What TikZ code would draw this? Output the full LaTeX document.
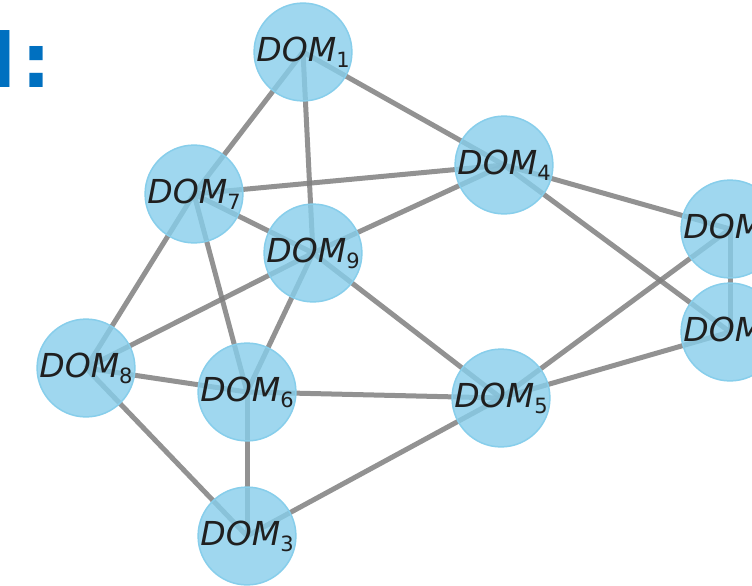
\documentclass[tikz,border=0pt]{standalone}
\usepackage{fontspec}
\setmainfont{DejaVu Sans}
\definecolor{nodefill}{RGB}{135,206,235}
\definecolor{edgegray}{RGB}{128,128,128}
\definecolor{titleblue}{RGB}{0,112,192}
\newcommand\domlabel[1]{\fontsize{33}{33}\selectfont\itshape DOM\raisebox{-6pt}{\upshape\fontsize{21}{21}\selectfont #1}}
\tikzset{
  link/.style={draw=edgegray, draw opacity=0.85, line width=5pt},
  dom/.style={circle, minimum size=95pt, inner sep=0pt, fill=nodefill, fill opacity=0.8,
              draw=nodefill, line width=1.5pt, text opacity=1, text=black!88},
}
\begin{document}
\begin{tikzpicture}[x=1pt,y=-1pt]
  \useasboundingbox (0,0) rectangle (752,586);
  \clip (0,0) rectangle (752,586);
  \fill[white] (0,0) rectangle (752,586);

  % node positions
  \coordinate (p1) at (303,52);
  \coordinate (p7) at (194,194);
  \coordinate (p4) at (504,165);
  \coordinate (p9) at (313,253);
  \coordinate (p8) at (86,368);
  \coordinate (p6) at (247,392);
  \coordinate (p5) at (501,398);
  \coordinate (p3) at (247,536);
  \coordinate (p2) at (730,229);
  \coordinate (p0) at (730,332);

  % edges
  \foreach \a/\b in {1/7,1/9,1/4,7/4,7/9,7/8,7/6,4/9,4/2,4/0,9/8,9/6,9/5,
                     8/6,8/3,6/5,6/3,5/3,5/2,5/0,2/0}
    \draw[link] (p\a) -- (p\b);

  % nodes
  \foreach \i in {1,7,4,9,8,6,5,3,2,0}
    \node[dom] (n\i) at (p\i) {\domlabel{\i}};

  % heading fragment
  \node[anchor=base west, inner sep=0pt, text=titleblue,
        font=\fontsize{75}{75}\selectfont\bfseries] (title) at (-10,88) {l\kern6pt:};
\end{tikzpicture}
\end{document}
